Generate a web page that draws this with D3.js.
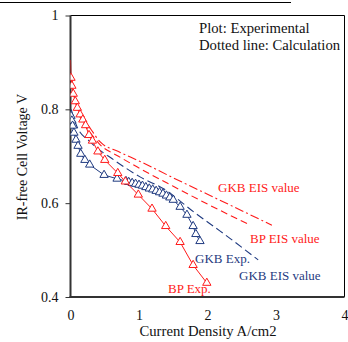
<!DOCTYPE html>
<html>
<head>
<meta charset="utf-8">
<script src="https://cdnjs.cloudflare.com/ajax/libs/d3/7.8.5/d3.min.js"></script>
<style>
  body { margin: 0; background: #fff; }
  svg text { font-family: "Liberation Serif", "DejaVu Serif", "Times New Roman", Times, serif !important; }
</style>
</head>
<body>
<div id="graph"></div>
<script>
// measured data (current density A/cm2, IR-free voltage V)
var bpExpJ = [0, 0.007, 0.02, 0.04, 0.07, 0.10, 0.14, 0.18, 0.22, 0.27, 0.32, 0.40, 0.50, 0.69, 0.80, 0.99, 1.19, 1.39, 1.60, 1.79, 1.99];
var bpExpV = [0.905, 0.867, 0.850, 0.833, 0.817, 0.803, 0.789, 0.778, 0.766, 0.745, 0.733, 0.710, 0.692, 0.664, 0.646, 0.618, 0.588, 0.551, 0.517, 0.468, 0.430];

var gkbExpJ = [0.007, 0.02, 0.03, 0.05, 0.08, 0.11, 0.15, 0.21, 0.28, 0.49, 0.68, 0.81, 0.85, 0.90, 0.95, 1.00, 1.05, 1.10, 1.15, 1.20, 1.25, 1.30, 1.35, 1.40, 1.45, 1.50, 1.60, 1.70, 1.79, 1.83, 1.89];
var gkbExpV = [0.786, 0.776, 0.765, 0.750, 0.735, 0.722, 0.705, 0.692, 0.682, 0.660, 0.652, 0.647, 0.645, 0.643, 0.641, 0.639, 0.637, 0.634, 0.631, 0.629, 0.626, 0.623, 0.620, 0.616, 0.612, 0.607, 0.592, 0.575, 0.551, 0.534, 0.519];

// calculated from EIS
var gkbEisRedJ = [0.02, 0.10, 0.20, 0.30, 0.43, 0.70, 1.00, 1.50, 2.00, 2.50, 2.94];
var gkbEisRedV = [0.865, 0.805, 0.778, 0.757, 0.731, 0.710, 0.690, 0.654, 0.619, 0.584, 0.553];

var bpEisJ = [0.02, 0.10, 0.20, 0.30, 0.43, 0.70, 1.00, 1.50, 2.00, 2.60];
var bpEisV = [0.860, 0.800, 0.768, 0.748, 0.725, 0.700, 0.675, 0.636, 0.598, 0.555];

var gkbEisBlueJ = [0.01, 0.095, 0.285, 0.635, 1.015, 1.365, 1.82, 2.18, 2.74];
var gkbEisBlueV = [0.800, 0.763, 0.731, 0.692, 0.656, 0.630, 0.579, 0.541, 0.479];

var xTicks = [0, 1, 2, 3, 4];
var yTicks = [0.4, 0.6, 0.8, 1];

var red = "#ff1a1a";
var blue = "#1f3a80";
var serif = '"Liberation Serif", "DejaVu Serif", "Times New Roman", Times, serif';

var W = 348, H = 342;
var svg = d3.select('#graph').append('svg')
    .attr('width', W)
    .attr('height', H)
    .attr('font-family', serif);

var x = d3.scaleLinear().domain([0, 4]).range([70.5, 344.5]);
var y = d3.scaleLinear().domain([0.4, 1]).range([297, 15.5]);

// header rule left over from the page above
svg.append("line")
    .attr("x1", 0).attr("x2", 291)
    .attr("y1", 2.5).attr("y2", 2.5)
    .style("stroke", "#000").style("stroke-width", 1);

svg.append("clipPath").attr("id", "plotclip")
  .append("rect")
    .attr("x", x(0)).attr("y", y(1))
    .attr("width", x(4) - x(0)).attr("height", y(0.4) - y(1));

// frame
svg.append("line").attr("x1", x(0)).attr("x2", x(4)).attr("y1", y(1)).attr("y2", y(1))
    .style("stroke", "#000").style("stroke-width", 1);
svg.append("line").attr("x1", x(4)).attr("x2", x(4)).attr("y1", y(1)).attr("y2", y(0.4))
    .style("stroke", "#000").style("stroke-width", 1);

// axes
var xAxis = svg.append("g")
    .attr("transform", "translate(0," + y(0.4) + ")")
    .call(d3.axisBottom(x).tickValues(xTicks).tickFormat(d3.format("d")).tickSize(0).tickPadding(13));
var yAxis = svg.append("g")
    .attr("transform", "translate(" + x(0) + ",0)")
    .call(d3.axisLeft(y).tickValues(yTicks).tickFormat(function(d){ return d == 1 ? "1" : d3.format(".1f")(d); }).tickSize(5).tickPadding(7));

[xAxis, yAxis].forEach(function(a){
    a.attr("font-family", serif);
    a.select(".domain").style("stroke", "#333").style("stroke-width", 2);
    a.selectAll("line").style("stroke", "#333");
    a.selectAll("text")
      .style("font-family", serif)
      .style("font-size", "14px")
      .style("fill", "#111");
});
xAxis.select(".domain").attr("d", "M" + (x(0) - 1) + ",0H" + x(4));
yAxis.select(".domain").attr("d", "M0," + y(1) + "V" + (y(0.4) + 1));

var plot = svg.append("g").attr("clip-path", "url(#plotclip)");

var line = d3.line()
    .x(function(d){ return x(d[0]); })
    .y(function(d){ return y(d[1]); });

function pairs(a, b){ return a.map(function(v, i){ return [v, b[i]]; }); }

// calculation lines
plot.append("path").datum(pairs(gkbEisRedJ, gkbEisRedV))
    .attr("d", line.curve(d3.curveMonotoneX))
    .style("fill", "none").style("stroke", red).style("stroke-width", 1.1)
    .style("stroke-dasharray", "9,3,2,3");
plot.append("path").datum(pairs(bpEisJ, bpEisV))
    .attr("d", line.curve(d3.curveMonotoneX))
    .style("fill", "none").style("stroke", red).style("stroke-width", 1.1)
    .style("stroke-dasharray", "7,4");
plot.append("path").datum(pairs(gkbEisBlueJ, gkbEisBlueV))
    .attr("d", line.curve(d3.curveMonotoneX))
    .style("fill", "none").style("stroke", blue).style("stroke-width", 1.1)
    .style("stroke-dasharray", "8,4");

// experimental lines + triangles
var tri = d3.symbol().type(d3.symbolTriangle).size(30);

function expSeries(J, V, col, skipFirst){
    var pts = pairs(J, V);
    plot.append("path").datum(pts)
        .attr("d", line.curve(d3.curveLinear))
        .style("fill", "none").style("stroke", col).style("stroke-width", 1);
    plot.selectAll(null)
        .data(skipFirst ? pts.slice(1) : pts)
        .enter()
        .append("path")
        .attr("d", tri)
        .attr("transform", function(d){ return "translate(" + x(d[0]) + "," + y(d[1]) + ")"; })
        .style("fill", "#fff")
        .style("stroke", col)
        .style("stroke-width", 1);
}
expSeries(gkbExpJ, gkbExpV, blue, false);
expSeries(bpExpJ, bpExpV, red, true);

// labels
function label(txt, lx, ly, col, fs){
    svg.append("text")
        .attr("x", lx).attr("y", ly)
        .style("font-family", serif)
        .style("font-size", (fs || 13) + "px")
        .style("fill", col)
        .text(txt);
}
label("Plot: Experimental", 199, 33, "#111", 14.7);
label("Dotted line: Calculation", 199, 50, "#111", 14.7);
label("GKB EIS value", 218, 192, red);
label("BP EIS value", 250, 243, red);
label("GKB Exp.", 195, 263, blue);
label("GKB EIS value", 239, 280, blue);
label("BP Exp.", 168, 293, red);

svg.append("text")
    .attr("x", 208)
    .attr("y", 336)
    .attr("text-anchor", "middle")
    .style("font-family", serif)
    .style("font-size", "14.7px")
    .style("fill", "#111")
    .text("Current Density A/cm2");

svg.append("text")
    .attr("transform", "translate(27," + 157 + ") rotate(-90)")
    .attr("text-anchor", "middle")
    .style("font-family", serif)
    .style("font-size", "14px")
    .style("fill", "#111")
    .text("IR-free Cell Voltage V");
</script>
</body>
</html>
